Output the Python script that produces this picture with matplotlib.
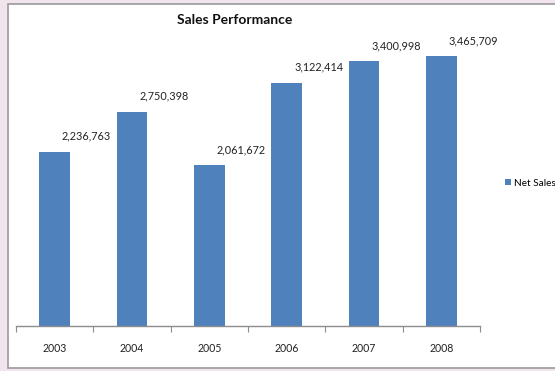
import matplotlib
matplotlib.use("Agg")
import matplotlib.pyplot as plt
from matplotlib.patches import Rectangle, Patch

years = ["2003", "2004", "2005", "2006", "2007", "2008"]
net_sales = [2236763, 2750398, 2061672, 3122414, 3400998, 3465709]
series_name = "Net Sales"
title = "Sales Performance"

W, H = 555, 371
fig = plt.figure(figsize=(W / 100, H / 100), dpi=100, facecolor="#f2e4ec")
plt.rcParams['font.family'] = ['Lato', 'DejaVu Sans']

# white chart area with grey border
fig.patches.append(Rectangle((8 / W, 3 / H), 1.0, (364) / H, transform=fig.transFigure,
                             facecolor="white", edgecolor="#9a9a9a", linewidth=1.2, zorder=-5))

ax_left, ax_right = 16 / W, 480 / W
ax_bottom = (H - 326) / H
ax_h = 311.5 / H
ax = fig.add_axes([ax_left, ax_bottom, ax_right - ax_left, ax_h])
ax.set_zorder(2)
ax.set_facecolor("none")

x = list(range(len(years)))
bars = ax.bar(x, net_sales, width=0.4, color="#4f81bd", zorder=2)
ax.set_xlim(-0.5, len(years) - 0.5)
ax.set_ylim(0, 4000000)

for xi, v in zip(x, net_sales):
    ax.annotate(f"{v:,}", (xi, v), xytext=(32, 10), textcoords="offset pixels",
                ha="center", va="bottom", fontsize=7.8, color="#222222",
                annotation_clip=False)

for s in ["top", "left", "right"]:
    ax.spines[s].set_visible(False)
ax.spines["bottom"].set_color("#8c8c8c")
ax.spines["bottom"].set_linewidth(1.0)
ax.set_yticks([])
ax.set_xticks([i - 0.5 for i in range(len(years) + 1)])
ax.set_xticklabels([])
ax.tick_params(axis="x", which="major", length=4, color="#8c8c8c", direction="out")
ax.set_xticks(x, minor=True)
ax.set_xticklabels(years, minor=True, fontsize=7.6, color="#222222")
ax.tick_params(axis="x", which="minor", length=0, pad=12)

fig.text(235 / W, (H - 20) / H, title, ha="center", va="center",
         fontsize=10, fontweight="bold", color="#111111")

fig.legend(handles=[Patch(facecolor="#4f81bd", label=series_name)],
           loc="center left", bbox_to_anchor=(505 / W, (H - 183) / H),
           frameon=False, fontsize=7.2, handlelength=0.6, handleheight=0.6,
           handletextpad=0.35, borderaxespad=0, borderpad=0)

fig.savefig("out.png", dpi=100, facecolor=fig.get_facecolor())
